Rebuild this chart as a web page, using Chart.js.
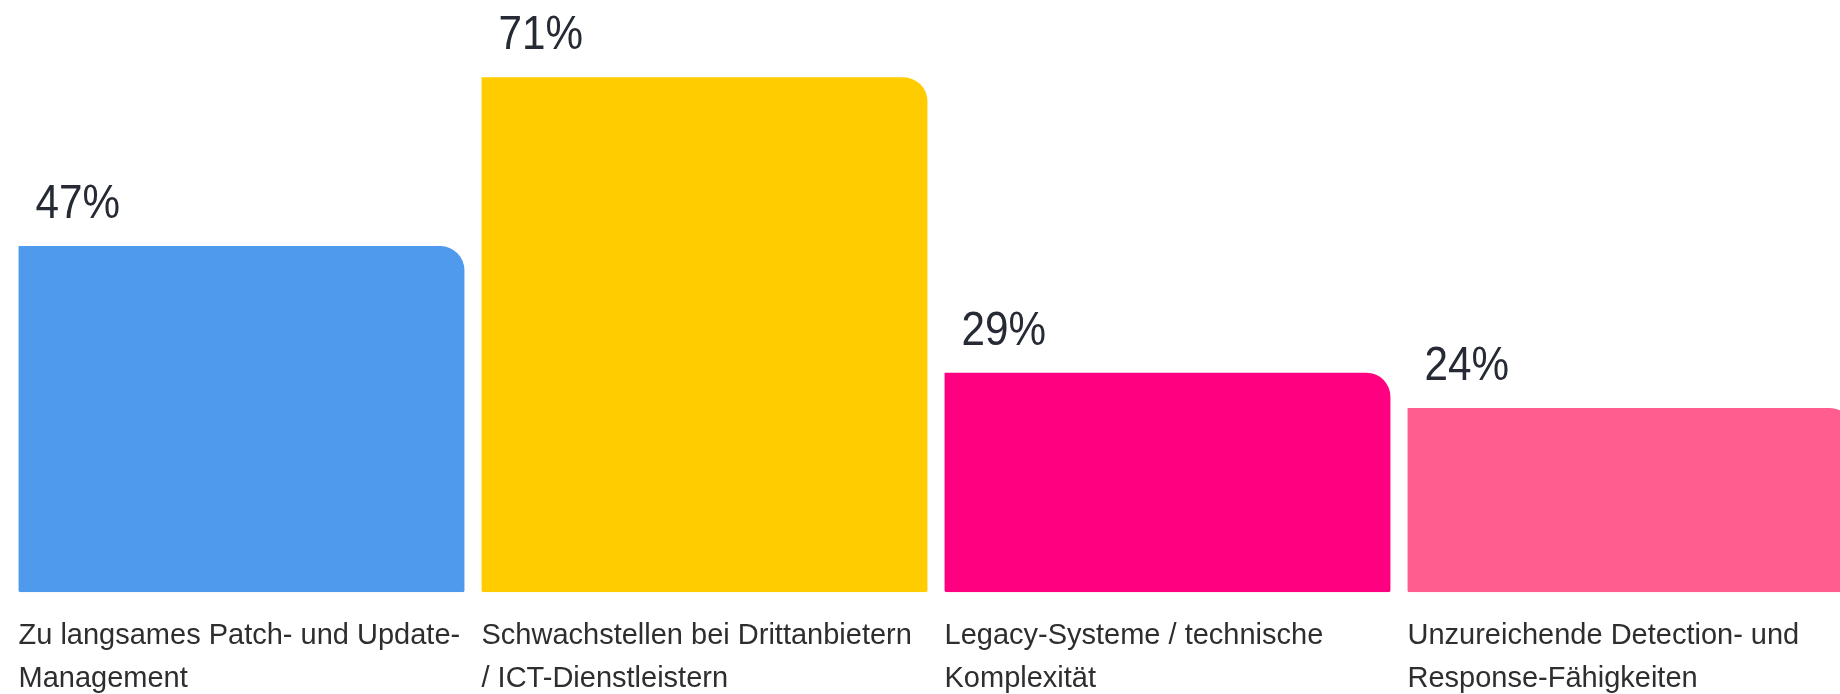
<!DOCTYPE html>
<html lang="de">
<head>
    <meta charset="UTF-8">
    <title>Herausforderungen</title>
    <script src="https://cdn.jsdelivr.net/npm/chart.js"></script>
    <style>
        html, body { margin: 0; padding: 0; background: #ffffff; overflow: hidden; }
        .chart-box { position: absolute; left: 0; top: 0; width: 1862px; height: 722px; }
    </style>
</head>
<body>
    <div class="chart-box"><canvas id="barChart"></canvas></div>

    <script>
        const categories = [
            ["Zu langsames Patch- und Update-", "Management"],
            ["Schwachstellen bei Drittanbietern", "/ ICT-Dienstleistern"],
            ["Legacy-Systeme / technische", "Komplexität"],
            ["Unzureichende Detection- und", "Response-Fähigkeiten"]
        ];
        const shares = [47, 71, 29, 24];
        const barColors = ["#4f9aed", "#ffcc00", "#ff0080", "#ff5c8f"];

        // value above each bar, left aligned with the bar, slightly condensed
        const valueLabels = {
            id: "valueLabels",
            afterDatasetsDraw(chart) {
                const ctx = chart.ctx;
                const meta = chart.getDatasetMeta(0);
                const squeeze = 0.88;
                ctx.save();
                ctx.font = '48px "Liberation Sans", Arial, sans-serif';
                ctx.fillStyle = "#262a35";
                ctx.textAlign = "left";
                ctx.textBaseline = "alphabetic";
                ctx.scale(squeeze, 1);
                meta.data.forEach((bar, i) => {
                    const x = bar.x - bar.width / 2 + 17;
                    ctx.fillText(shares[i] + "%", x / squeeze, bar.y - 28);
                });
                ctx.restore();
            }
        };

        const ctx = document.getElementById("barChart").getContext("2d");
        const barChart = new Chart(ctx, {
            type: "bar",
            data: {
                labels: categories,
                datasets: [{
                    data: shares,
                    backgroundColor: barColors,
                    base: -2.2,
                    barPercentage: 1,
                    categoryPercentage: 0.963,
                    borderRadius: { topLeft: 0, topRight: 24, bottomLeft: 2, bottomRight: 2 },
                    borderSkipped: false
                }]
            },
            options: {
                responsive: true,
                maintainAspectRatio: false,
                animation: false,
                layout: { padding: { left: 10, top: 14, right: 0, bottom: 0 } },
                plugins: {
                    legend: { display: false },
                    tooltip: { enabled: false }
                },
                scales: {
                    x: {
                        grid: { display: false, drawTicks: false },
                        border: { display: false },
                        // labels hang off the left edge of each bar; don't let them shrink the plot
                        afterFit(scale) {
                            scale.paddingLeft = 0;
                            scale.paddingRight = 0;
                        },
                        ticks: {
                            align: "start",
                            labelOffset: -223,
                            padding: 22,
                            autoSkip: false,
                            maxRotation: 0,
                            color: "#2e2e2e",
                            font: { family: '"Liberation Sans", Arial, sans-serif', size: 29, lineHeight: 1.48 }
                        }
                    },
                    y: {
                        display: false,
                        min: -2.2,
                        max: 80
                    }
                }
            },
            plugins: [valueLabels]
        });
    </script>
</body>
</html>
